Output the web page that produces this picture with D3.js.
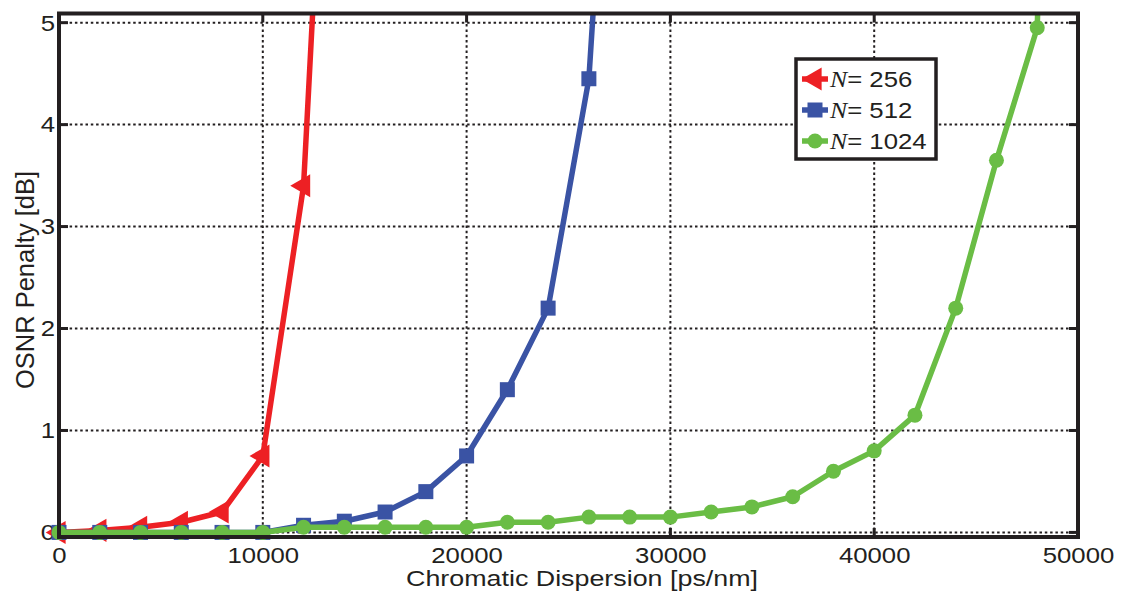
<!DOCTYPE html>
<html><head><meta charset="utf-8">
<script src="https://cdn.jsdelivr.net/npm/d3@7"></script>
<style>body{margin:0;background:#fff}svg{display:block}</style>
</head><body>
<svg id="c" width="1121" height="594"></svg>
<script>
const xValues = [0,2000,4000,6000,8000,10000,12000,14000,16000,18000,20000,22000,24000,26000,28000,30000,32000,34000,36000,38000,40000,42000,44000,46000,48000,50000];
const n256 = [0,0.02,0.05,0.1,0.2,0.75,3.4,11];
const n512 = [0,0,0,0,0,0,0.07,0.11,0.2,0.4,0.75,1.4,2.2,4.45,10.7];
const n1024 = [0,0,0,0,0,0,0.05,0.05,0.05,0.05,0.05,0.1,0.1,0.15,0.15,0.15,0.2,0.25,0.35,0.6,0.8,1.15,2.2,3.65,4.95,20];
const seriesNames = ["256","512","1024"];
const xTicks = [0,10000,20000,30000,40000,50000];
const yTicks = [0,1,2,3,4,5];
const colors = ["#ed2024","#3a53a4","#6abd45"];

const svg = d3.select("#c");
const L = 59, R = 1078, T = 13.5, B = 537;
const x = d3.scaleLinear().domain([0,50000]).range([L,R]);
const y = d3.scaleLinear().domain([-0.045,5.09]).range([B,T]);
const ink = "#231f20";
const font = "'Liberation Sans', Arial, Helvetica, sans-serif";
const SX = 1.12; // horizontal stretch of the original lettering

svg.append("defs").append("clipPath").attr("id","clip")
  .append("rect").attr("x",L).attr("y",T).attr("width",R-L).attr("height",B-T);

// grid
const grid = svg.append("g").attr("stroke",ink).attr("stroke-width",2).attr("stroke-dasharray","2.5,2.8");
grid.selectAll(".gx").data(xTicks.slice(1,-1)).join("line")
  .attr("x1",d=>x(d)).attr("x2",d=>x(d)).attr("y1",T).attr("y2",B);
grid.selectAll(".gy").data(yTicks).join("line")
  .attr("x1",L).attr("x2",R).attr("y1",d=>y(d)).attr("y2",d=>y(d));

// ticks inward
const tk = svg.append("g").attr("stroke",ink).attr("stroke-width",3);
xTicks.forEach(t=>{
  tk.append("line").attr("x1",x(t)).attr("x2",x(t)).attr("y1",B).attr("y2",B-9);
  tk.append("line").attr("x1",x(t)).attr("x2",x(t)).attr("y1",T).attr("y2",T+9);
});
yTicks.forEach(t=>{
  tk.append("line").attr("x1",L).attr("x2",L+9).attr("y1",y(t)).attr("y2",y(t));
  tk.append("line").attr("x1",R).attr("x2",R-9).attr("y1",y(t)).attr("y2",y(t));
});

// axes tick labels using d3 axes (lines hidden)
const xAxis = svg.append("g").attr("transform",`translate(0,${B})`)
  .call(d3.axisBottom(x).tickValues(xTicks).tickFormat(d3.format("d")).tickSize(0).tickPadding(10));
const yAxis = svg.append("g").attr("transform",`translate(${L},0)`)
  .call(d3.axisLeft(y).tickValues(yTicks).tickFormat(d3.format("d")).tickSize(0).tickPadding(4));
[xAxis,yAxis].forEach(a=>{
  a.select(".domain").remove();
  a.selectAll("text").attr("font-family",font).attr("font-size",23).attr("fill",ink);
});
xAxis.selectAll("text").attr("transform",`scale(${SX},1)`);
yAxis.selectAll("text").each(function(){
  const t = d3.select(this); const xx = +t.attr("x");
  t.attr("transform",`translate(${xx},0) scale(${SX},1)`).attr("x",0);
});

// series
const series = [n256,n512,n1024];
const line = d3.line().x((d,i)=>x(xValues[i])).y(d=>y(d));
const plot = svg.append("g");
const tri = d3.symbol().type(d3.symbolTriangle).size(230);

function marker(g, k, cx, cy){
  if(k===0){
    g.append("path").attr("d",tri()).attr("transform",`translate(${cx},${cy}) rotate(-90)`).attr("fill",colors[0]);
  } else if(k===1){
    g.append("rect").attr("x",cx-7.5).attr("y",cy-7.5).attr("width",15).attr("height",15).attr("fill",colors[1]);
  } else {
    g.append("circle").attr("cx",cx).attr("cy",cy).attr("r",7.5).attr("fill",colors[2]);
  }
}

series.forEach((s,k)=>{
  const g = plot.append("g");
  g.append("path").datum(s).attr("d",line).attr("fill","none")
    .attr("stroke",colors[k]).attr("stroke-width",5.5).attr("stroke-linejoin","round")
    .attr("clip-path","url(#clip)");
  s.forEach((v,i)=>{ if(v<=5.09) marker(g,k,x(xValues[i]),y(v)); });
});

// frame
svg.append("rect").attr("x",L).attr("y",T).attr("width",R-L).attr("height",B-T)
  .attr("fill","none").attr("stroke",ink).attr("stroke-width",4);

// axis titles
svg.append("text").attr("x",582).attr("y",586).attr("text-anchor","middle")
  .attr("textLength",352).attr("lengthAdjust","spacingAndGlyphs")
  .attr("font-family",font).attr("font-size",22.5).attr("fill",ink).text("Chromatic Dispersion [ps/nm]");
svg.append("text").attr("transform",`translate(34,280) rotate(-90) scale(1,${SX})`).attr("text-anchor","middle")
  .attr("textLength",218).attr("lengthAdjust","spacingAndGlyphs")
  .attr("font-family",font).attr("font-size",23).attr("fill",ink).text("OSNR Penalty [dB]");

// legend
const lg = svg.append("g");
lg.append("rect").attr("x",796).attr("y",59).attr("width",140).attr("height",100)
  .attr("fill","#fff").attr("stroke",ink).attr("stroke-width",3.5);
const rowsY = [79,110,141];
seriesNames.forEach((nm,k)=>{
  const cy = rowsY[k];
  lg.append("line").attr("x1",802).attr("x2",828).attr("y1",cy).attr("y2",cy)
    .attr("stroke",colors[k]).attr("stroke-width",5.5);
  marker(lg,k,815,cy);
  const t = lg.append("text").attr("transform",`translate(830,${cy+8}) scale(${SX},1)`)
    .attr("font-size",23).attr("fill",ink).attr("font-family",font);
  t.append("tspan").attr("font-family","'Liberation Serif','Times New Roman',serif").attr("font-style","italic").text("N");
  t.append("tspan").text("= "+nm);
});
</script>
</body></html>
